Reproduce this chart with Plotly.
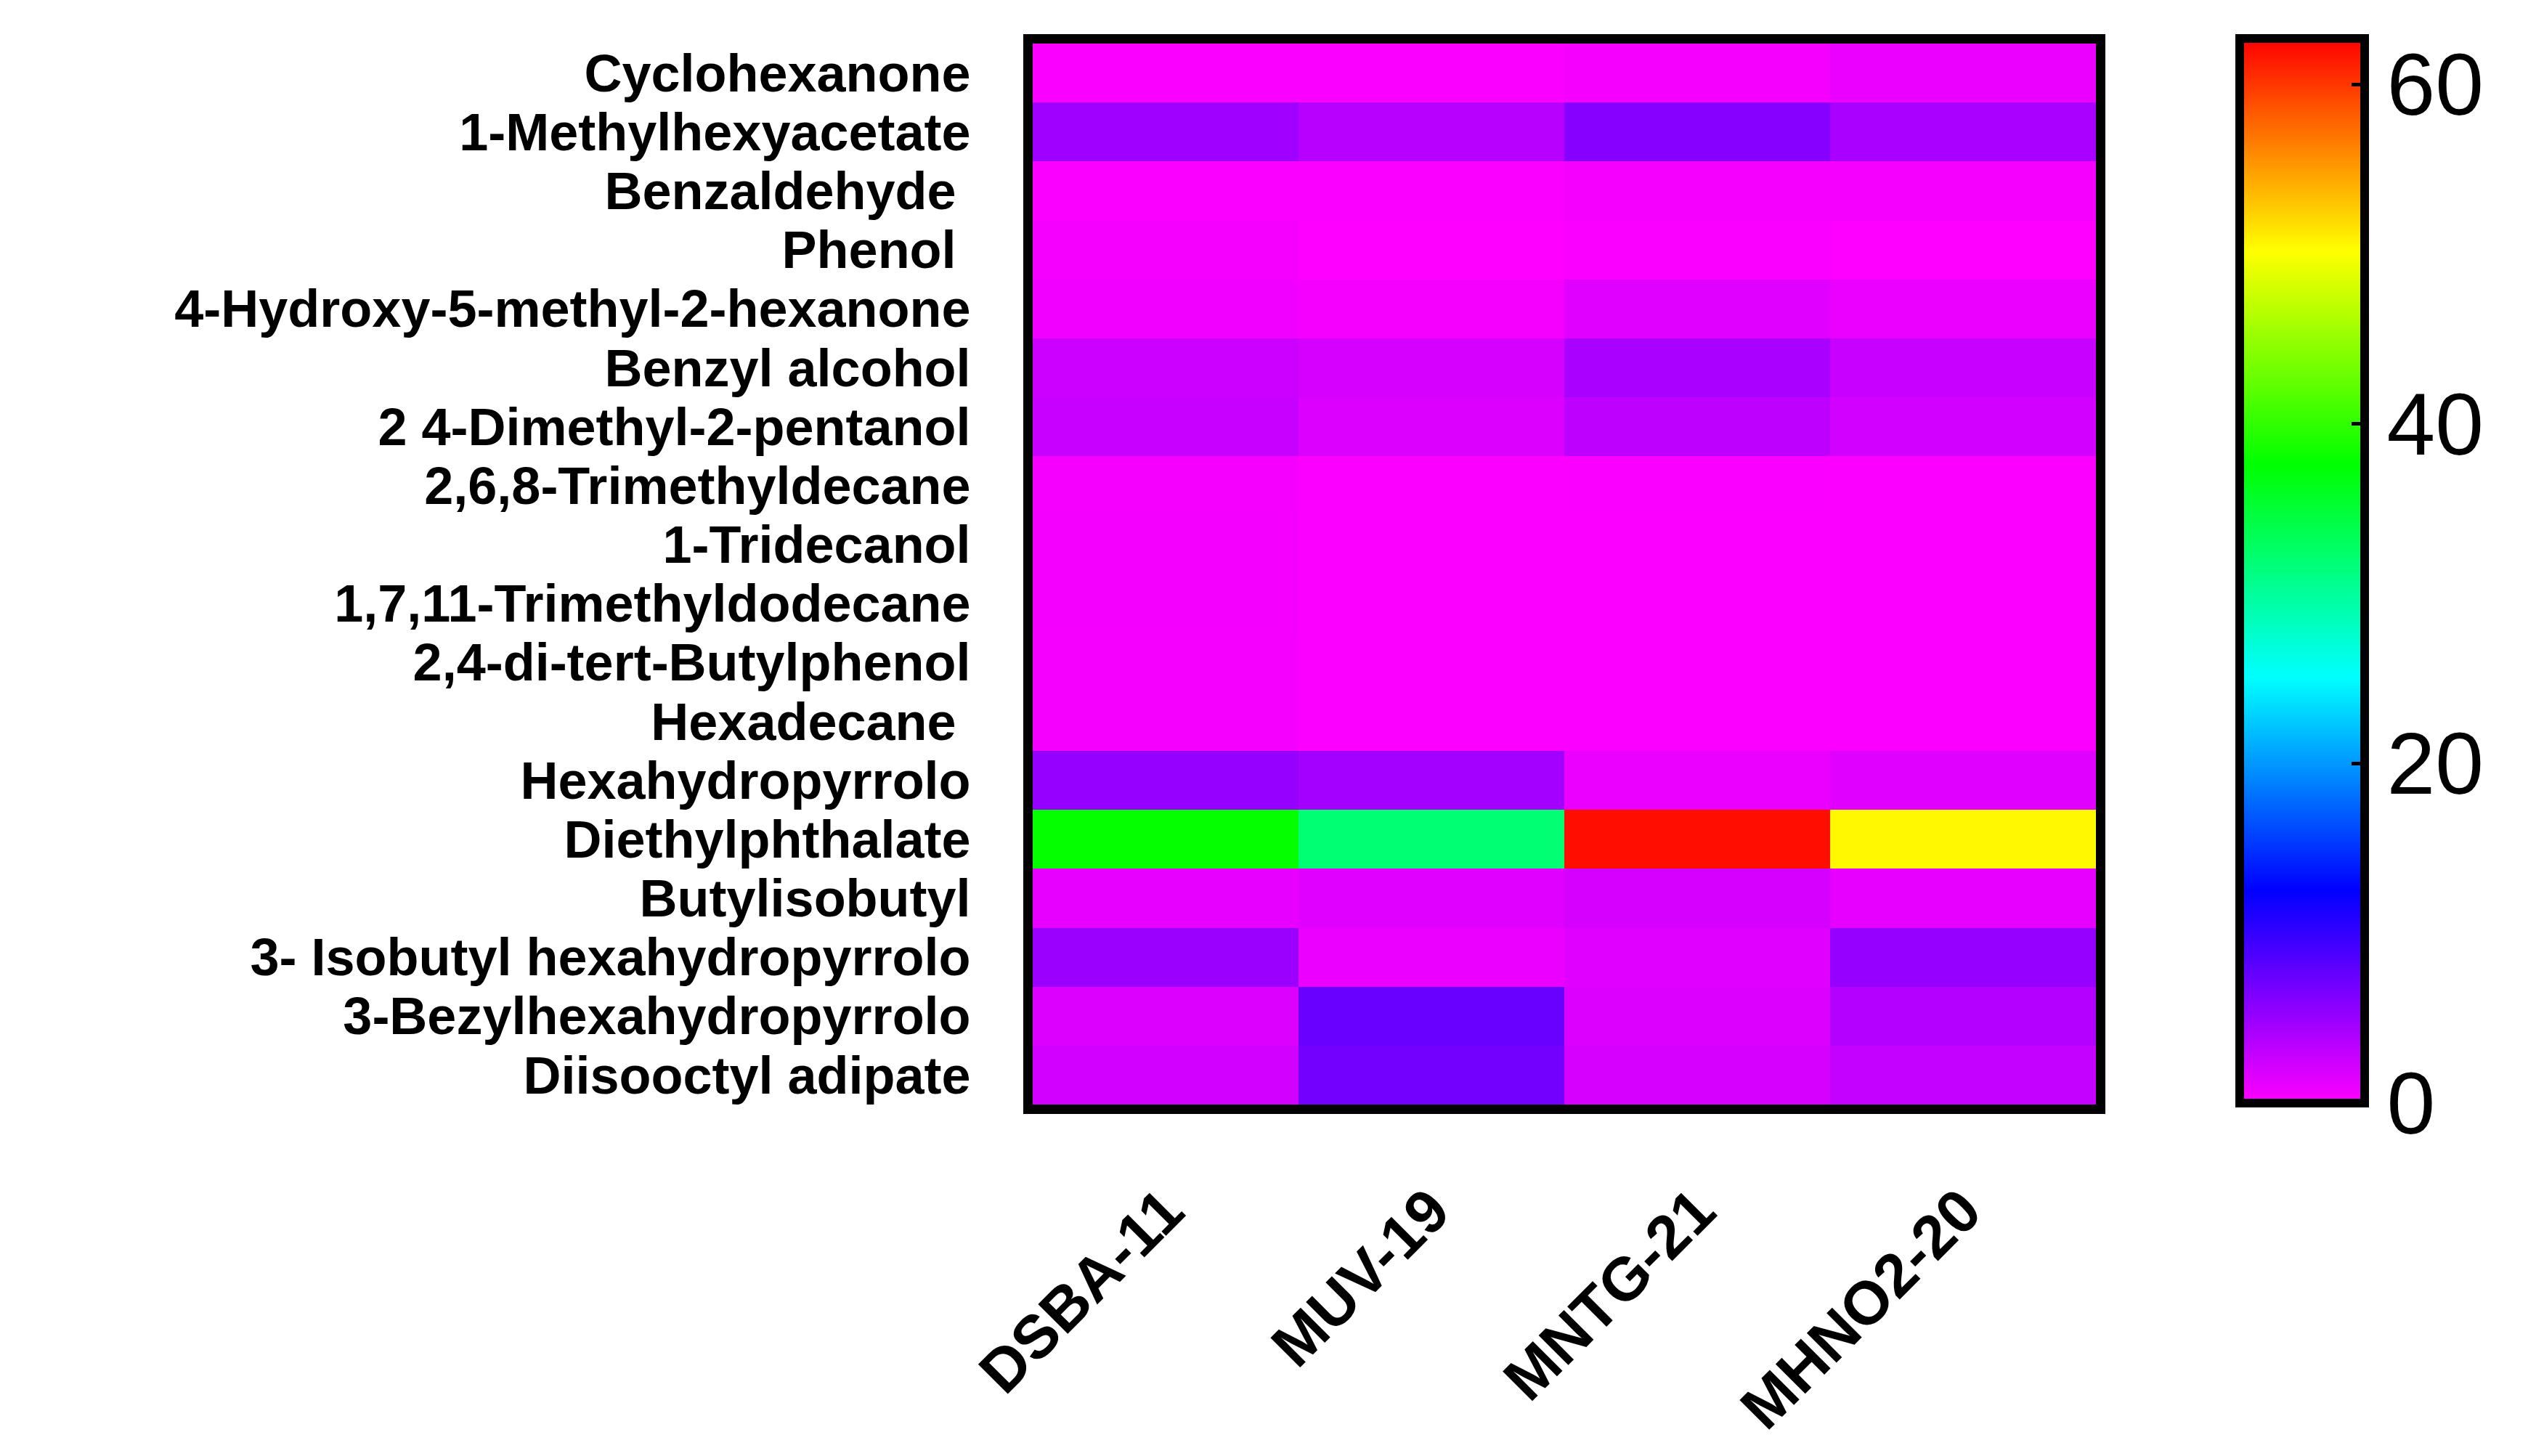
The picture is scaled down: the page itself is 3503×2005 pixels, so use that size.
import plotly.graph_objects as go

compounds = [
    "Cyclohexanone",
    "1-Methylhexyacetate",
    "Benzaldehyde\u00a0",
    "Phenol\u00a0",
    "4-Hydroxy-5-methyl-2-hexanone",
    "Benzyl alcohol",
    "2 4-Dimethyl-2-pentanol",
    "2,6,8-Trimethyldecane",
    "1-Tridecanol",
    "1,7,11-Trimethyldodecane",
    "2,4-di-tert-Butylphenol",
    "Hexadecane\u00a0",
    "Hexahydropyrrolo",
    "Diethylphthalate",
    "Butylisobutyl",
    "3- Isobutyl hexahydropyrrolo",
    "3-Bezylhexahydropyrrolo",
    "Diisooctyl adipate",
]
samples = ["DSBA-11", "MUV-19", "MNTG-21", "MHNO2-20"]

dsba_11 = [0.3, 4.7, 0.3, 0.5, 0.7, 2.5, 2.7, 0.5, 0.6, 0.6, 0.5, 0.5, 5.2, 37.8, 1.2, 4.9, 1.7, 2.2]
muv_19 = [0.3, 3.5, 0.3, 0.1, 0.5, 2.0, 1.7, 0.2, 0.2, 0.2, 0.2, 0.2, 4.5, 32.0, 1.5, 1.0, 7.4, 6.9]
mntg_21 = [0.5, 5.9, 0.5, 0.3, 1.5, 4.2, 3.2, 0.3, 0.2, 0.2, 0.2, 0.2, 1.0, 62.0, 2.0, 1.5, 1.7, 2.0]
mhno2_20 = [1.0, 4.2, 0.5, 0.1, 1.0, 2.7, 2.2, 0.2, 0.2, 0.2, 0.2, 0.2, 1.5, 50.5, 1.2, 5.2, 3.7, 2.9]

colorbar_ticks = [0, 20, 40, 60]

z = [list(r) for r in zip(dsba_11, muv_19, mntg_21, mhno2_20)]

W, H = 3503, 2005
colorscale = [
    [0.0, "#ff00ff"],
    [0.2, "#0000ff"],
    [0.4, "#00ffff"],
    [0.6, "#00ff00"],
    [0.8, "#ffff00"],
    [1.0, "#ff0000"],
]

fig = go.Figure(
    go.Heatmap(
        z=z,
        x=samples,
        y=compounds,
        zmin=0,
        zmax=62.7,
        colorscale=colorscale,
        colorbar=dict(
            x=3076 / W,
            xanchor="left",
            xpad=0,
            ypad=0,
            y=1 - 778 / H,
            yanchor="middle",
            len=1466 / H,
            lenmode="fraction",
            thickness=172,
            thicknessmode="pixels",
            outlinewidth=12,
            outlinecolor="black",
            tickvals=colorbar_ticks,
            ticks="inside",
            ticklen=24,
            tickwidth=5,
            tickcolor="black",
            tickfont=dict(family="Liberation Sans, Arial, sans-serif", size=120, color="black"),
        ),
    )
)

fig.update_layout(
    width=W,
    height=H,
    margin=dict(l=0, r=0, t=0, b=0),
    paper_bgcolor="white",
    plot_bgcolor="white",
    xaxis=dict(
        domain=[1414 / W, 2878 / W],
        tickmode="array",
        tickvals=samples,
        ticktext=samples,
        tickangle=-45,
        tickfont=dict(family="Liberation Sans, Arial, sans-serif", size=84, color="black", weight="bold"),
        showline=True,
        linewidth=13,
        linecolor="black",
        mirror=True,
        ticks="",
        showgrid=False,
        zeroline=False,
        automargin=False,
        ticklabelstandoff=50,
    ),
    yaxis=dict(
        domain=[1 - 1513 / H, 1 - 52 / H],
        autorange="reversed",
        tickmode="array",
        tickvals=compounds,
        ticktext=compounds,
        tickfont=dict(family="Liberation Sans, Arial, sans-serif", size=72, color="black", weight="bold"),
        showline=True,
        linewidth=13,
        linecolor="black",
        mirror=True,
        ticks="",
        showgrid=False,
        zeroline=False,
        automargin=False,
        ticklabelstandoff=58,
    ),
)

fig.write_html("out.html")
